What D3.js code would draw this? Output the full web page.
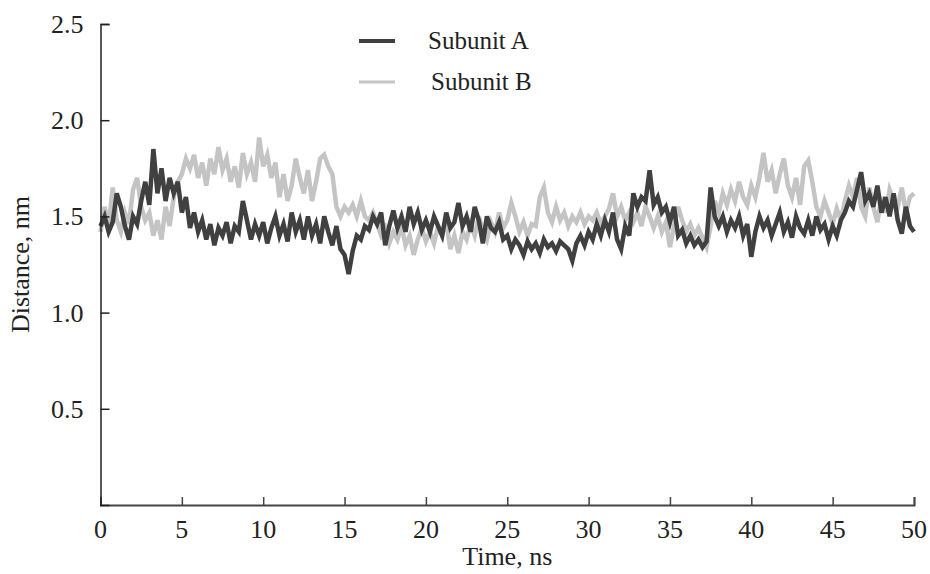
<!DOCTYPE html>
<html>
<head>
<meta charset="utf-8">
<script src="https://cdn.jsdelivr.net/npm/d3@7"></script>
<style>
  body { margin: 0; background: #fff; }
  text { font-family: "Liberation Serif", "Times New Roman", serif; fill: #222; }
</style>
</head>
<body>
<div id="chart"></div>
<script>
// distance vs time, two subunits, sampled every 0.25 ns

const seriesNames = ["Subunit A", "Subunit B"];
const timeStep = 0.25;

const subunitA = [
  1.45, 1.50, 1.42, 1.47, 1.62, 1.55, 1.45, 1.38, 1.50, 1.46, 1.58, 1.68,
  1.56, 1.85, 1.62, 1.75, 1.58, 1.70, 1.62, 1.68, 1.52, 1.60, 1.44, 1.52,
  1.42, 1.48, 1.38, 1.46, 1.35, 1.44, 1.40, 1.47, 1.36, 1.45, 1.42, 1.58,
  1.48, 1.38, 1.46, 1.40, 1.47, 1.36, 1.44, 1.50, 1.40, 1.46, 1.37, 1.52,
  1.42, 1.48, 1.38, 1.50, 1.40, 1.46, 1.36, 1.50, 1.42, 1.35, 1.45, 1.33,
  1.30, 1.20, 1.32, 1.40, 1.38, 1.45, 1.43, 1.50, 1.46, 1.52, 1.35, 1.45,
  1.53, 1.44, 1.50, 1.42, 1.55, 1.46, 1.52, 1.43, 1.48, 1.42, 1.50, 1.45,
  1.40, 1.52, 1.44, 1.47, 1.57, 1.45, 1.50, 1.42, 1.55, 1.48, 1.36, 1.50,
  1.44, 1.42, 1.47, 1.38, 1.40, 1.33, 1.38, 1.35, 1.30, 1.37, 1.33, 1.36,
  1.31, 1.38, 1.34, 1.36, 1.32, 1.37, 1.35, 1.33, 1.27, 1.36, 1.40, 1.35,
  1.42, 1.38, 1.46, 1.40, 1.48, 1.42, 1.52, 1.38, 1.33, 1.45, 1.40, 1.62,
  1.55, 1.60, 1.58, 1.74, 1.56, 1.60, 1.52, 1.55, 1.47, 1.55, 1.40, 1.43,
  1.36, 1.40, 1.35, 1.38, 1.34, 1.37, 1.65, 1.50, 1.45, 1.50, 1.42, 1.48,
  1.44, 1.50, 1.40, 1.46, 1.29, 1.42, 1.50, 1.44, 1.48, 1.40, 1.46, 1.52,
  1.42, 1.47, 1.39, 1.50, 1.44, 1.41, 1.48, 1.40, 1.50, 1.43, 1.46, 1.38,
  1.45, 1.40, 1.48, 1.52, 1.58, 1.55, 1.64, 1.73, 1.58, 1.62, 1.55, 1.66,
  1.52, 1.60, 1.50, 1.62, 1.48, 1.41, 1.55, 1.45, 1.42
];

const subunitB = [
  1.42, 1.55, 1.45, 1.65, 1.48, 1.42, 1.52, 1.46, 1.64, 1.70, 1.55, 1.48,
  1.52, 1.40, 1.48, 1.38, 1.55, 1.45, 1.60, 1.68, 1.72, 1.80, 1.75, 1.82,
  1.70, 1.78, 1.66, 1.80, 1.72, 1.86, 1.74, 1.80, 1.68, 1.76, 1.65, 1.83,
  1.72, 1.78, 1.68, 1.91, 1.76, 1.82, 1.70, 1.78, 1.60, 1.72, 1.58, 1.66,
  1.80, 1.70, 1.62, 1.74, 1.58, 1.68, 1.80, 1.82, 1.76, 1.72, 1.55, 1.50,
  1.55, 1.52, 1.56, 1.50, 1.58, 1.50, 1.48, 1.52, 1.46, 1.40, 1.44, 1.36,
  1.42, 1.38, 1.45, 1.35, 1.40, 1.30, 1.38, 1.44, 1.37, 1.42, 1.36, 1.45,
  1.40, 1.48, 1.33, 1.40, 1.31, 1.42, 1.38, 1.46, 1.40, 1.50, 1.43, 1.38,
  1.47, 1.42, 1.52, 1.44, 1.48, 1.57, 1.50, 1.42, 1.47, 1.40, 1.46, 1.45,
  1.60, 1.65, 1.52, 1.47, 1.55, 1.48, 1.52, 1.45, 1.50, 1.47, 1.52, 1.46,
  1.50, 1.48, 1.52, 1.46, 1.50, 1.54, 1.62, 1.50, 1.55, 1.48, 1.52, 1.47,
  1.52, 1.45, 1.55, 1.50, 1.44, 1.50, 1.42, 1.47, 1.34, 1.45, 1.55, 1.48,
  1.42, 1.46, 1.40, 1.44, 1.39, 1.34, 1.45, 1.58, 1.52, 1.62, 1.56, 1.64,
  1.58, 1.68, 1.60, 1.56, 1.66, 1.60, 1.70, 1.83, 1.68, 1.74, 1.62, 1.72,
  1.80, 1.66, 1.60, 1.70, 1.56, 1.76, 1.79, 1.68, 1.55, 1.50, 1.58, 1.52,
  1.46, 1.54, 1.48, 1.58, 1.66, 1.60, 1.70, 1.55, 1.50, 1.65, 1.55, 1.47,
  1.60, 1.52, 1.64, 1.58, 1.55, 1.65, 1.52, 1.60, 1.62
];

const xTicks = [0, 5, 10, 15, 20, 25, 30, 35, 40, 45, 50];
const yTicks = [0.5, 1.0, 1.5, 2.0, 2.5];
const xLabel = "Time, ns";
const yLabel = "Distance, nm";

const width = 930;
const height = 574;
const plotLeft = 100.5, plotRight = 914, plotTop = 24, plotBottom = 505;
const colors = ["#404040", "#c4c4c4"];
const fontSize = 26;

const svg = d3.select("#chart")
    .append("svg")
    .attr("width", width)
    .attr("height", height);

const x = d3.scaleLinear().domain([0, 50]).range([plotLeft, plotRight]);
const y = d3.scaleLinear().domain([0, 2.5]).range([plotBottom, plotTop]);

const line = d3.line()
    .x((d, i) => x(i * timeStep))
    .y(d => y(d));

// B underneath, A on top
[subunitB, subunitA].forEach((s, k) => {
    svg.append("path")
        .datum(s)
        .attr("d", line)
        .attr("fill", "none")
        .attr("stroke", k === 0 ? colors[1] : colors[0])
        .attr("stroke-width", 4.5)
        .attr("stroke-linejoin", "miter");
});

// x axis, ticks point inward
const xAxis = svg.append("g")
    .attr("transform", `translate(0,${plotBottom})`)
    .call(d3.axisTop(x).tickValues(xTicks).tickSize(8).tickFormat(""));
xAxis.select(".domain").attr("stroke", "#444").attr("stroke-width", 2);
xAxis.selectAll(".tick line").attr("stroke", "#444").attr("stroke-width", 1.5);

svg.selectAll(".xlab")
    .data(xTicks)
    .enter()
    .append("text")
    .attr("x", d => x(d))
    .attr("y", plotBottom + 33)
    .attr("text-anchor", "middle")
    .attr("font-size", fontSize)
    .text(d => d);

// y axis
const yAxis = svg.append("g")
    .attr("transform", `translate(${plotLeft},0)`)
    .call(d3.axisRight(y).tickValues(yTicks).tickSize(9).tickFormat(""));
yAxis.select(".domain").attr("stroke", "#222").attr("stroke-width", 1.5);
yAxis.selectAll(".tick line").attr("stroke", "#222").attr("stroke-width", 1.5);

svg.selectAll(".ylab")
    .data(yTicks)
    .enter()
    .append("text")
    .attr("x", plotLeft - 17)
    .attr("y", d => y(d) + 9)
    .attr("text-anchor", "end")
    .attr("font-size", fontSize)
    .text(d => d.toFixed(1));

svg.append("text")
    .attr("x", x(25))
    .attr("y", 565)
    .attr("text-anchor", "middle")
    .attr("font-size", fontSize)
    .text(xLabel);

svg.append("text")
    .attr("transform", `translate(29,${y(1.25)}) rotate(-90)`)
    .attr("text-anchor", "middle")
    .attr("font-size", fontSize)
    .text(yLabel);

// legend
const legend = svg.append("g");
seriesNames.forEach((name, i) => {
    const ly = 41 + i * 41;
    legend.append("line")
        .attr("x1", 359).attr("x2", 395)
        .attr("y1", ly).attr("y2", ly)
        .attr("stroke", colors[i])
        .attr("stroke-width", i === 0 ? 4 : 3);
    legend.append("text")
        .attr("x", 428 + i * 3)
        .attr("y", ly + 8)
        .attr("font-size", fontSize - 1)
        .text(name);
});
</script>
</body>
</html>
